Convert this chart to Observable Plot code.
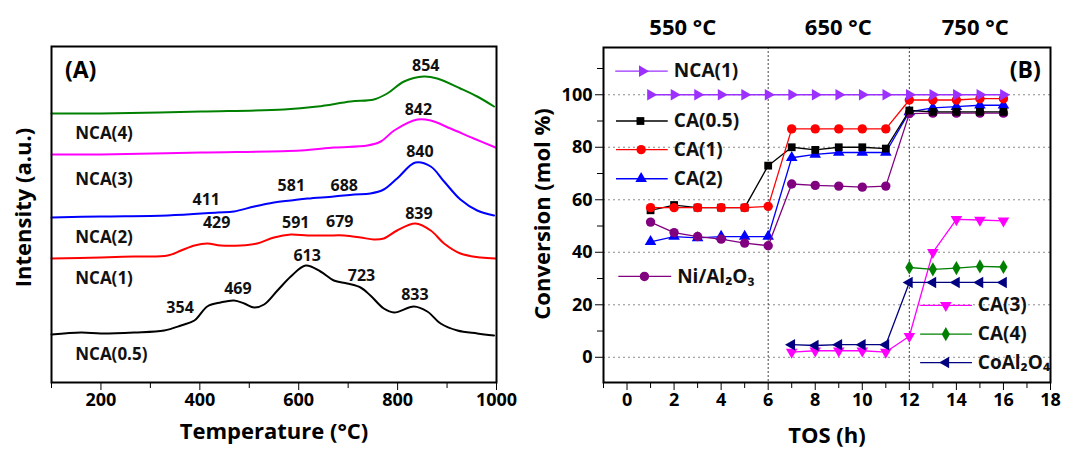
<!DOCTYPE html>
<html><head><meta charset="utf-8">
<script src="https://cdn.jsdelivr.net/npm/d3@7"></script>
<script src="https://cdn.jsdelivr.net/npm/@observablehq/plot@0.6"></script>
<style>
body{margin:0;background:#fff;}
#wrap{position:relative;width:1075px;height:450px;overflow:hidden;background:#fff;}
#wrap svg{position:absolute;top:0;overflow:visible;}
</style></head><body><div id="wrap"></div>
<script>
// ---------- Panel A: TPR profiles (temperature, intensity a.u.) ----------
const nca05Temp = [100,160,200,267,328,362,389,415,442,469,490,510,530,557,584,614,644,671,698,725,745,772,793,833,860,887,921,961,995];
const nca05Int  = [48,50,49,50,52,57,62,76,80,82,79,75,78,92,106,117,111,102,99,95,87,74,70,76,71,59,52,49,47];
const nca1Temp  = [100,200,267,335,362,389,415,442,483,516,550,584,618,658,692,725,752,772,799,836,867,894,927,968,998];
const nca1Int   = [124,125,126,127,132,137,139,137,137,139,145,148,147,147,147,145,143,144,152,159,152,139,129,125,124];
const nca2Temp  = [100,200,335,436,469,510,550,584,618,671,712,745,772,799,836,867,894,927,961,995];
const nca2Int   = [165,166,167,170,171,176,180,182,184,186,188,189,193,204,220,216,201,183,172,167];
const nca3Temp  = [100,200,402,604,671,739,766,793,840,867,907,954,998];
const nca3Int   = [228,228,230,232,235,237,241,252,263,262,254,244,235];
const nca4Temp  = [100,200,402,570,638,705,752,779,813,853,880,927,961,995];
const nca4Int   = [269,269,271,273,276,281,283,289,301,306,304,294,286,276];
const sampleNamesA = ["NCA(0.5)","NCA(1)","NCA(2)","NCA(3)","NCA(4)"];
const peakLabels = ["354","469","613","723","833","429","591","679","839","411","581","688","840","842","854"];
const xTicksA = [200,400,600,800,1000];
const xMinorA = [100,300,500,700,900];

// ---------- Panel B: conversion vs time on stream ----------
const hours    = [1,2,3,4,5,6,7,8,9,10,11,12,13,14,15,16];
const nca1Conv = [100,100,100,100,100,100,100,100,100,100,100,100,100,100,100,100];
const ca05Conv = [56,58,57,57,57,73,80,79,80,80,79.5,94,93.5,93.5,93.5,93.5];
const ca1Conv  = [57,57,57,57,57,57.5,87,87,87,87,87,98,98,98,98.5,98.5];
const ca2Conv  = [44,46,45.5,46,46,46,76,77.3,78,78,78,93.5,95,95.5,96,96];
const niConv   = [51.5,47.5,46,45,43.5,42.5,66,65.5,65.2,64.8,65.2,92.8,93,93,93,93];
const ca3Hours = [7,8,9,10,11,12,13,14,15,16];
const ca3Conv  = [2,2.5,2.5,2.5,2,8,40,52.5,52.3,52];
const ca4Hours = [12,13,14,15,16];
const ca4Conv  = [34.2,33.5,34,34.6,34.4];
const coHours  = [7,8,9,10,11,12,13,14,15,16];
const coConv   = [4.8,4.5,4.8,4.8,4.8,28.5,28.5,28.5,28.5,28.5];
const stageLabels = ["550 °C","650 °C","750 °C"];
const xTicksB = [0,2,4,6,8,10,12,14,16,18];
const xMinorB = [-1,1,3,5,7,9,11,13,15,17];
const yTicksB = [0,20,40,60,80,100];
const yMinorB = [10,30,50,70,90,110];

const FONT = "'Open Sans', 'Noto Sans', sans-serif";
const zip = (xs, ys) => xs.map((x, i) => ({x, y: ys[i]}));
const plain = d => String(d);

// ===== Panel A =====
const curvesA = [
  {name: "NCA(0.5)", data: zip(nca05Temp, nca05Int), color: "#000000"},
  {name: "NCA(1)",   data: zip(nca1Temp, nca1Int),   color: "#FF0000"},
  {name: "NCA(2)",   data: zip(nca2Temp, nca2Int),   color: "#0000FF"},
  {name: "NCA(3)",   data: zip(nca3Temp, nca3Int),   color: "#FF00FF"},
  {name: "NCA(4)",   data: zip(nca4Temp, nca4Int),   color: "#008000"}
];
const nameLabelY = [28, 104, 145, 203, 249];
const nameLabels = sampleNamesA.map((n, i) => ({x: 148, y: nameLabelY[i], t: n}));
const peakPos = [[360,75],[477,94],[617,127],[727,107],[835,88],[434,160],[594,160],[683,161],[843,169],[413,183],[585,197],[692,197],[845,231],[842,273],[857,317]];
const peaks = peakLabels.map((t, i) => ({x: peakPos[i][0], y: peakPos[i][1], t}));

const plotA = Plot.plot({
  width: 540, height: 450,
  marginLeft: 51, marginRight: 44, marginTop: 46, marginBottom: 68,
  x: {domain: [100, 1000]},
  y: {domain: [0, 336], axis: null},
  style: {fontFamily: FONT, fontSize: "18px", fontWeight: "bold", color: "black", background: "transparent", overflow: "visible"},
  marks: [
    ...curvesA.map(c => Plot.line(c.data, {x: "x", y: "y", stroke: c.color, strokeWidth: 2, curve: "catmull-rom"})),
    Plot.frame({stroke: "black", strokeWidth: 2}),
    Plot.axisX(xTicksA, {tickSize: 8, tickPadding: 3, label: null, tickFormat: plain, fontSize: 18, fontWeight: "bold"}),
    Plot.axisX(xMinorA, {tickSize: 6, fill: "none", label: null}),
    Plot.text(nameLabels, {x: "x", y: "y", text: "t", textAnchor: "start", fontSize: 17, fontWeight: "bold", fill: "#111"}),
    Plot.text(peaks, {x: "x", y: "y", text: "t", fontSize: 16, fontWeight: "bold", fill: "#111"}),
    Plot.text(["(A)"], {x: 159, y: 312, text: d => d, fontSize: 23, fontWeight: "bold"}),
    Plot.text(["Temperature (°C)"], {frameAnchor: "bottom", dy: 49, textAnchor: "middle", lineAnchor: "middle", text: d => d, fontSize: 22, fontWeight: "bold"}),
    Plot.text(["Intensity (a.u.)"], {frameAnchor: "left", dx: -28, dy: -7, rotate: -90, textAnchor: "middle", lineAnchor: "middle", text: d => d, fontSize: 22, fontWeight: "bold"})
  ]
});
plotA.style.left = "0px";
document.getElementById("wrap").appendChild(plotA);

// ===== Panel B =====
const seriesB = [
  {name: "CA(2)",   data: zip(hours, ca2Conv),  color: "#0000FF", symbol: "triangle", rotate: 0,   r: 4.3},
  {name: "Ni/Al₂O₃", data: zip(hours, niConv), color: "#800080", symbol: "circle",   rotate: 0,   r: 4.7},
  {name: "CA(0.5)", data: zip(hours, ca05Conv), color: "#000000", symbol: "square",   rotate: 0,   r: 4.4},
  {name: "CA(1)",   data: zip(hours, ca1Conv),  color: "#FF0000", symbol: "circle",   rotate: 0,   r: 4.7},
  {name: "CA(3)",   data: zip(ca3Hours, ca3Conv), color: "#FF00FF", symbol: "triangle", rotate: 180, r: 4.3},
  {name: "CA(4)",   data: zip(ca4Hours, ca4Conv), color: "#008000", symbol: "diamond",  rotate: 0,   r: 4.3},
  {name: "CoAl₂O₄", data: zip(coHours, coConv),   color: "#000080", symbol: "triangle", rotate: -90, r: 4.3},
  {name: "NCA(1)",  data: zip(hours, nca1Conv), color: "#9B30FF", symbol: "triangle", rotate: 90,  r: 4.3}
];
const byName = Object.fromEntries(seriesB.map(s => [s.name, s]));
// legend layout (positions in data units)
const legendLayout = [
  {name: "NCA(1)",   y: 109,  x1: -0.5, x2: 1.73, xm: 0.65, xt: 1.99},
  {name: "CA(0.5)",  y: 90,   x1: -0.47, x2: 1.73, xm: 0.57, xt: 1.99},
  {name: "CA(1)",    y: 79.1, x1: -0.47, x2: 1.73, xm: 0.6,  xt: 1.99},
  {name: "CA(2)",    y: 68,   x1: -0.47, x2: 1.73, xm: 0.6,  xt: 1.99},
  {name: "Ni/Al₂O₃", y: 30.8, x1: -0.37, x2: 1.88, xm: 0.74, xt: 2.13},
  {name: "CA(3)",    y: 19.8, x1: 12.46, x2: 14.66, xm: 13.55, xt: 14.91},
  {name: "CA(4)",    y: 8.8,  x1: 12.46, x2: 14.66, xm: 13.55, xt: 14.91},
  {name: "CoAl₂O₄",  y: -2.0, x1: 12.46, x2: 14.66, xm: 13.55, xt: 14.91}
];
const stagePos = [2.37, 8.98, 14.8];
const stages = stageLabels.map((t, i) => ({x: stagePos[i], y: 125.3, t}));

const marksB = [
  Plot.gridY(yTicksB, {stroke: "#8a8a8a", strokeOpacity: 1, strokeDasharray: "2,3", strokeWidth: 1}),
  Plot.ruleX([6, 12], {stroke: "#444", strokeDasharray: "2,2", strokeWidth: 1})
];
for (const s of seriesB) {
  marksB.push(Plot.line(s.data, {x: "x", y: "y", stroke: s.color, strokeWidth: 1.3}));
  marksB.push(Plot.dot(s.data, {x: "x", y: "y", fill: s.color, stroke: "none", symbol: s.symbol, rotate: s.rotate, r: s.r}));
}
for (const l of legendLayout) {
  const s = byName[l.name];
  marksB.push(Plot.link([l], {x1: "x1", x2: "x2", y1: "y", y2: "y", stroke: s.color, strokeWidth: 1.3}));
  marksB.push(Plot.dot([l], {x: "xm", y: "y", fill: s.color, stroke: "none", symbol: s.symbol, rotate: s.rotate, r: s.r}));
  marksB.push(Plot.text([l], {x: "xt", y: "y", text: "name", textAnchor: "start", fontSize: 19, fontWeight: "bold", fill: "#111"}));
}
marksB.push(
  Plot.frame({stroke: "black", strokeWidth: 2}),
  Plot.axisX(xTicksB, {tickSize: 8, tickPadding: 3, label: null, tickFormat: plain, fontSize: 18, fontWeight: "bold"}),
  Plot.axisX(xMinorB, {tickSize: 6, fill: "none", label: null}),
  Plot.axisY(yTicksB, {tickSize: 8, tickPadding: 3, label: null, tickFormat: plain, fontSize: 18, fontWeight: "bold"}),
  Plot.axisY(yMinorB, {tickSize: 6, fill: "none", label: null}),
  Plot.text(stages, {x: "x", y: "y", text: "t", fontSize: 22, fontWeight: "bold"}),
  Plot.text(["(B)"], {x: 16.93, y: 109.3, text: d => d, fontSize: 23, fontWeight: "bold"}),
  Plot.text(["TOS (h)"], {frameAnchor: "bottom", dy: 53, textAnchor: "middle", lineAnchor: "middle", text: d => d, fontSize: 22, fontWeight: "bold"}),
  Plot.text(["Conversion (mol %)"], {frameAnchor: "left", dx: -61, dy: -1, rotate: -90, textAnchor: "middle", lineAnchor: "middle", text: d => d, fontSize: 22, fontWeight: "bold"})
);

const plotB = Plot.plot({
  width: 555, height: 450,
  marginLeft: 83, marginRight: 25, marginTop: 47, marginBottom: 68,
  x: {domain: [-1, 18]},
  y: {domain: [-9.6, 118]},
  style: {fontFamily: FONT, fontSize: "18px", fontWeight: "bold", color: "black", background: "transparent", overflow: "visible"},
  marks: marksB
});
plotB.style.left = "520px";
document.getElementById("wrap").appendChild(plotB);
</script></body></html>
